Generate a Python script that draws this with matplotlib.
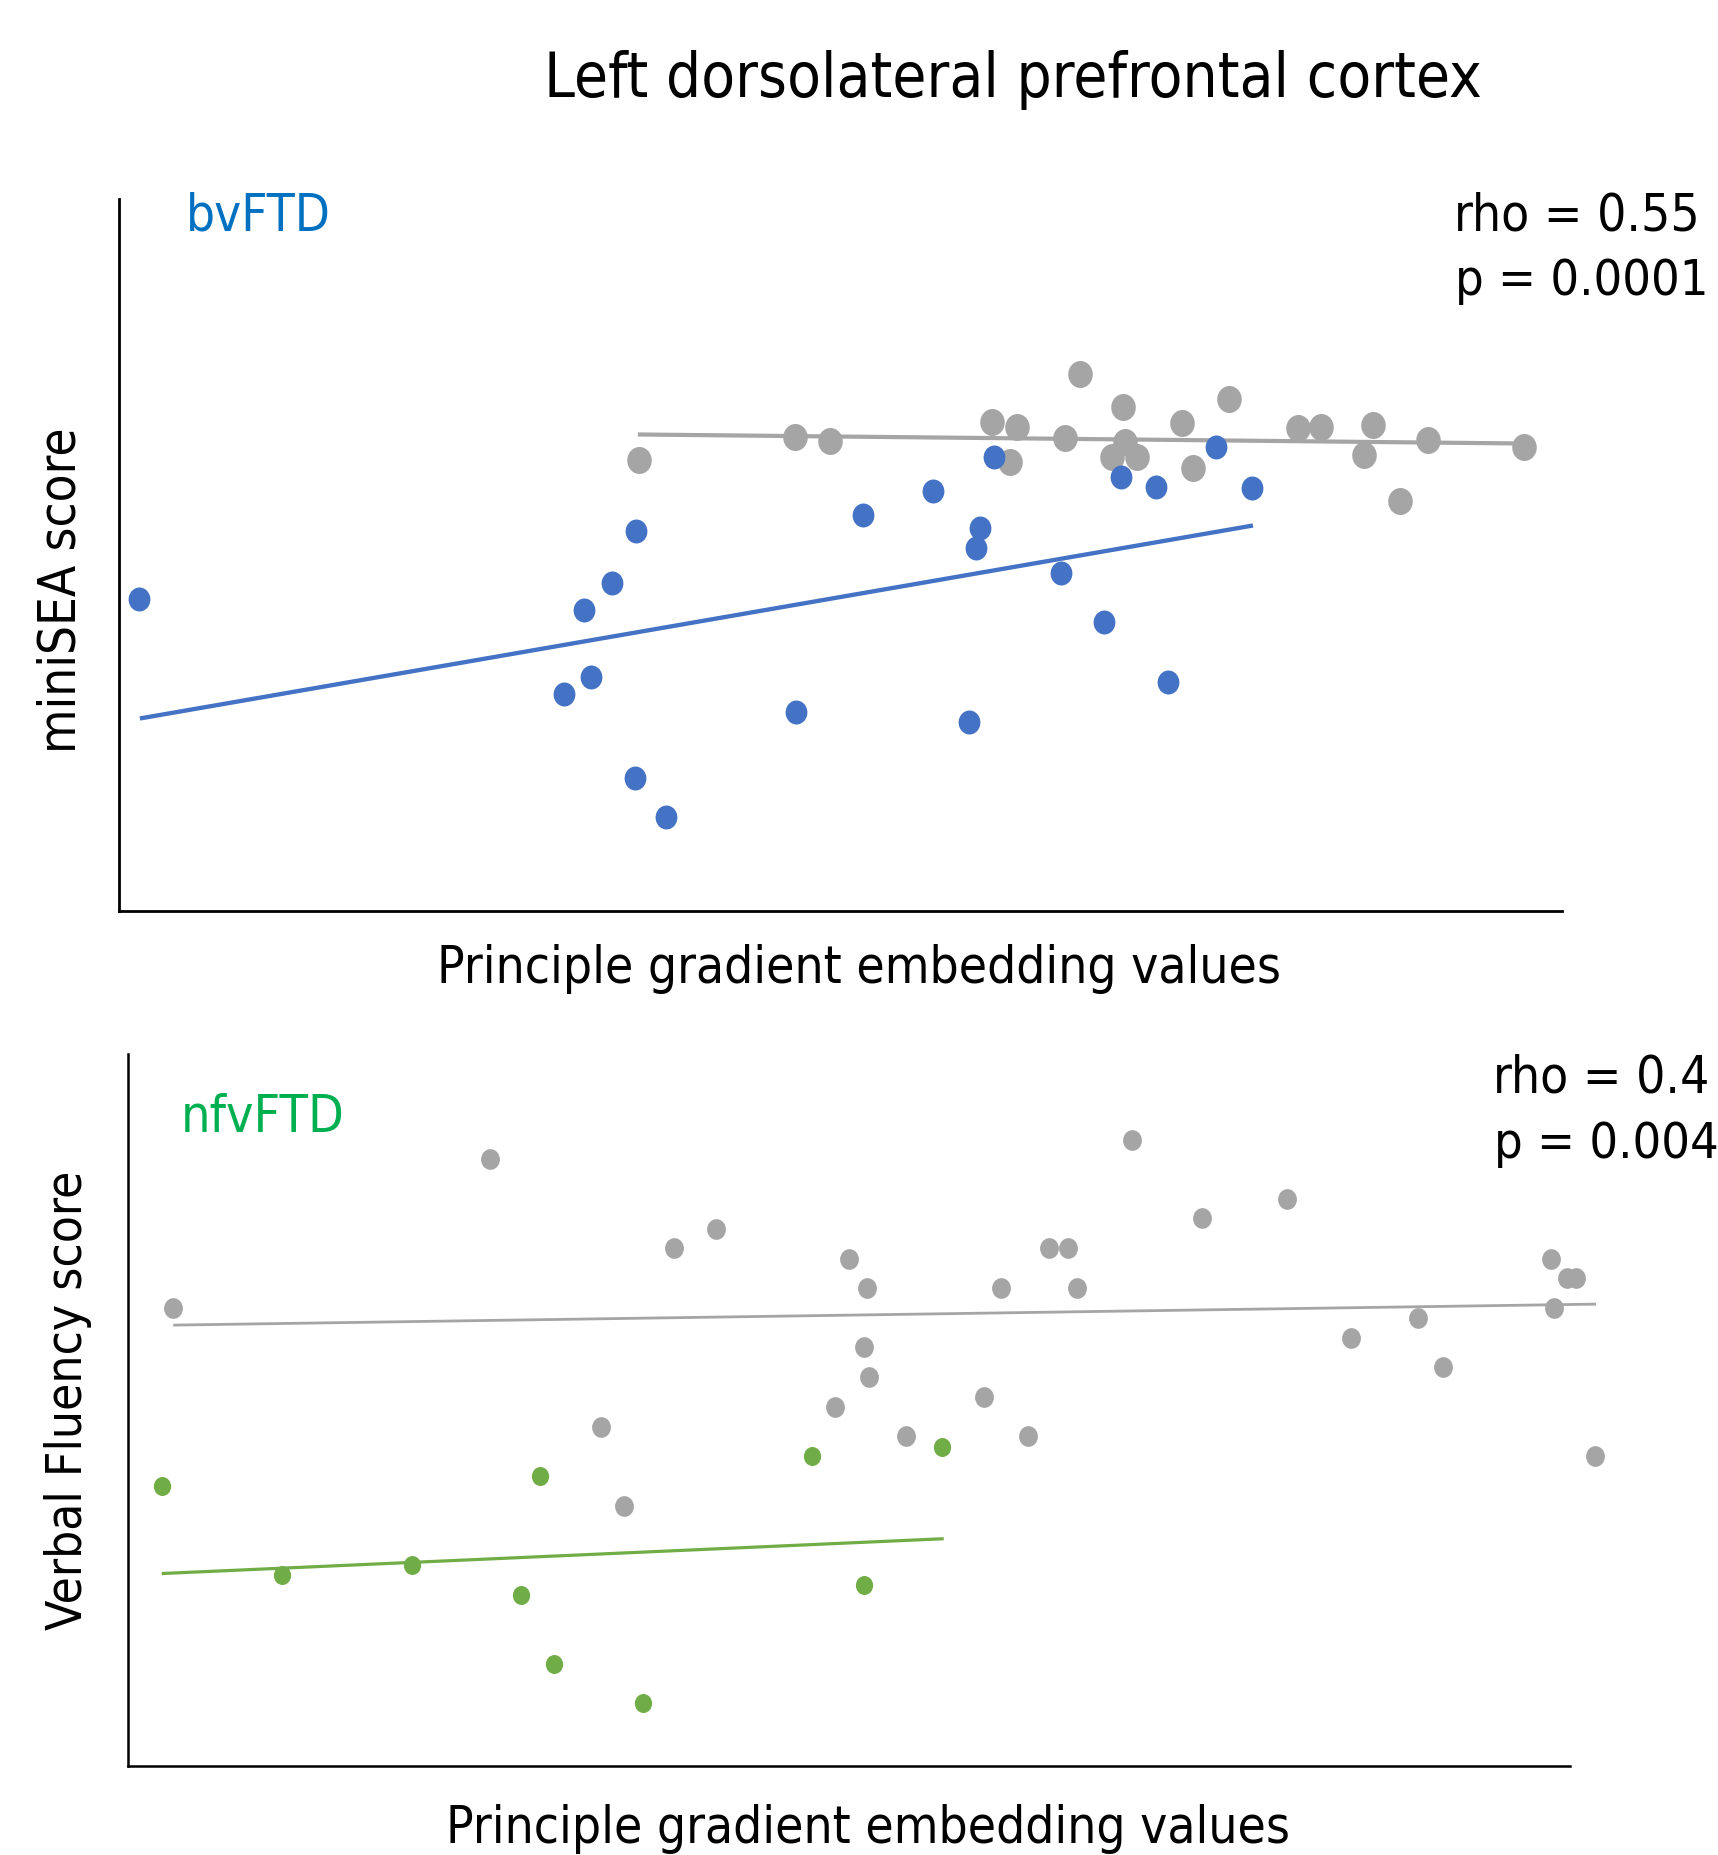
import numpy as np
import matplotlib.pyplot as plt
from matplotlib.path import Path
from matplotlib.transforms import Affine2D

#-----------------------Data (arbitrary 0-100 units)-----
# top panel: miniSEA score, bvFTD patients (blue) and controls (grey)
bv_x = [1.41, 35.86, 34.18, 32.25, 32.70, 30.84, 46.93, 35.79, 37.95, 51.55, 60.67,
        56.42, 59.72, 59.41, 65.33, 68.29, 72.73, 58.95, 69.43, 71.89, 76.03, 78.53]
bv_y = [43.77, 53.28, 46.09, 42.31, 32.82, 30.44, 27.92, 18.71, 13.20, 55.64, 63.75,
        59.01, 53.70, 50.91, 47.48, 40.57, 32.19, 26.53, 60.96, 59.50, 65.09, 59.36]
ctrl_top_x = [36.05, 46.85, 49.28, 66.62, 69.62, 76.98, 60.55, 62.25, 65.59, 73.71, 69.77,
              68.82, 70.60, 61.80, 74.43, 81.72, 83.35, 86.95, 86.34, 90.75, 88.77, 97.42]
ctrl_top_y = [63.33, 66.55, 65.98, 75.42, 70.80, 71.92, 68.64, 68.01, 66.47, 68.50, 65.84,
              63.75, 63.75, 63.05, 62.15, 67.74, 68.01, 68.29, 63.96, 66.19, 57.60, 65.16]
bv_trend_x = [1.45, 78.61]
bv_trend_y = [27.03, 54.12]
ctrl_top_trend_x = [35.97, 97.42]
ctrl_top_trend_y = [66.90, 65.63]

# bottom panel: verbal fluency, nfvFTD patients (green) and controls (grey)
nfv_x = [2.34, 10.67, 19.69, 28.60, 27.27, 29.55, 35.71, 47.46, 51.08, 56.47]
nfv_y = [39.32, 26.83, 28.17, 40.66, 24.02, 14.19, 8.72, 43.54, 25.36, 44.72]
ctrl_bot_x = [3.14, 25.10, 37.84, 40.77, 49.98, 51.23, 51.08, 51.38, 49.07, 32.82,
              34.38, 69.67, 74.53, 80.42, 63.90, 65.19, 60.53, 65.80, 59.35, 53.96,
              62.43, 84.86, 89.48, 91.20, 98.71, 99.81, 100.42, 98.94, 101.75]
ctrl_bot_y = [64.23, 85.15, 72.66, 75.39, 71.17, 67.11, 58.77, 54.55, 50.41, 47.60,
              36.44, 87.81, 76.88, 79.53, 72.66, 72.66, 67.11, 67.11, 51.81, 46.26,
              46.26, 60.09, 62.90, 55.96, 71.17, 68.45, 68.45, 64.23, 43.45]
nfv_trend_x = [2.34, 56.58]
nfv_trend_y = [26.97, 31.86]
ctrl_bot_trend_x = [3.14, 101.82]
ctrl_bot_trend_y = [61.87, 64.82]

stats_top = ["rho = 0.55", "p = 0.0001"]
stats_bot = ["rho = 0.4", "p = 0.004"]

BLUE = "#4472C4"
GREEN = "#70AD47"
GREY = "#A5A5A5"

W, H = 1718, 1855
FS = 1 / 0.9   # condensed face is ~10% narrower


def px(x, y):
    """pixel position (from top-left) -> figure fraction"""
    return x / W, 1 - y / H


def strip_axes(ax, lw):
    ax.set_xlim(0, 100)
    ax.set_ylim(0, 100)
    for side in ["top", "right"]:
        ax.spines[side].set_visible(False)
    for side in ["left", "bottom"]:
        ax.spines[side].set_linewidth(lw)
        ax.spines[side].set_color("black")
    ax.set_xticks([])
    ax.set_yticks([])
    ax.patch.set_alpha(0)


# markers in the original are slightly taller than wide
oval = Affine2D().scale(1 / 1.1, 1).transform_path(Path.unit_circle())

plt.rcParams['font.family'] = ['DejaVu Sans']
plt.rcParams['font.stretch'] = 'condensed'
fig = plt.figure(figsize=(W / 100, H / 100), dpi=100)

#-----------------------Top panel------------------------------------------
ax1 = fig.add_axes([119 / W, 1 - 911 / H, 1442.5 / W, 712.3 / H])
strip_axes(ax1, 2.0)
ax1.scatter(ctrl_top_x, ctrl_top_y, s=378, marker=oval, color=GREY, linewidths=0, zorder=2)
ax1.plot(ctrl_top_trend_x, ctrl_top_trend_y, color=GREY, lw=3.0, zorder=3,
         solid_capstyle="butt")
ax1.scatter(bv_x, bv_y, s=298, marker=oval, color=BLUE, linewidths=0, zorder=4)
ax1.plot(bv_trend_x, bv_trend_y, color=BLUE, lw=3.1, zorder=5, solid_capstyle="butt")

#-----------------------Bottom panel---------------------------------------
ax2 = fig.add_axes([128 / W, 1 - 1765.5 / H, 1441.7 / W, 711.8 / H])
strip_axes(ax2, 1.8)
ax2.scatter(ctrl_bot_x, ctrl_bot_y, s=222, marker=oval, color=GREY, linewidths=0,
            zorder=2, clip_on=False)
ax2.plot(ctrl_bot_trend_x, ctrl_bot_trend_y, color=GREY, lw=2.0, zorder=3,
         solid_capstyle="butt", clip_on=False)
ax2.scatter(nfv_x, nfv_y, s=187, marker=oval, color=GREEN, linewidths=0, zorder=4)
ax2.plot(nfv_trend_x, nfv_trend_y, color=GREEN, lw=2.3, zorder=5, solid_capstyle="butt")

#-----------------------Text-----------------------------------------------
fig.text(*px(1012.7, 97), "Left dorsolateral prefrontal cortex", fontsize=40 * FS,
         ha="center", va="baseline")

fig.text(*px(186, 230.6), "bvFTD", fontsize=33 * FS, color="#0070C0", va="baseline")
fig.text(*px(1454, 230.7), stats_top[0], fontsize=33.2 * FS, va="baseline")
fig.text(*px(1455, 295), stats_top[1], fontsize=32.6 * FS, va="baseline")
fig.text(*px(75, 590), "miniSEA score", fontsize=33 * FS, rotation=90,
         rotation_mode="anchor", ha="center", va="baseline")
fig.text(*px(859, 983), "Principle gradient embedding values", fontsize=33.2 * FS,
         ha="center", va="baseline")

fig.text(*px(181, 1131.5), "nfvFTD", fontsize=33.5 * FS, color="#00B050", va="baseline")
fig.text(*px(1493, 1092.7), stats_bot[0], fontsize=33.2 * FS, va="baseline")
fig.text(*px(1494, 1157.7), stats_bot[1], fontsize=32.6 * FS, va="baseline")
fig.text(*px(82, 1400), "Verbal Fluency score", fontsize=32 * FS, rotation=90,
         rotation_mode="anchor", ha="center", va="baseline")
fig.text(*px(868.5, 1843), "Principle gradient embedding values", fontsize=33.2 * FS,
         ha="center", va="baseline")

fig.savefig("out.png", dpi=100)
